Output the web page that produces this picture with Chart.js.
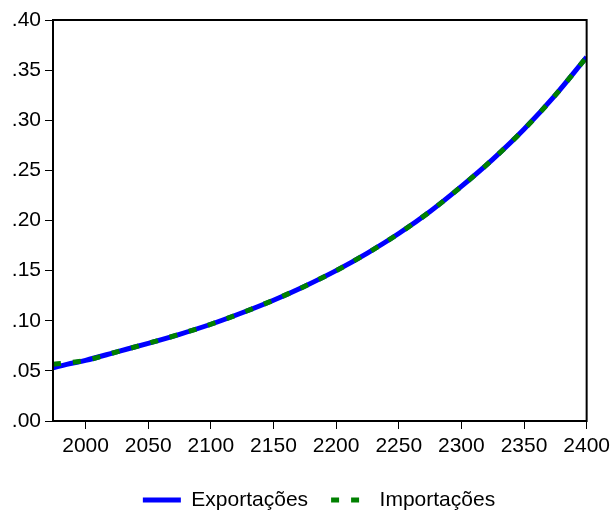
<!DOCTYPE html>
<html>
<head>
<meta charset="utf-8">
<script src="https://cdn.jsdelivr.net/npm/chart.js@4/dist/chart.umd.min.js"></script>
<style>
  html, body { margin: 0; padding: 0; background: #ffffff; }
  #wrap { width: 615px; height: 512px; }
</style>
</head>
<body>
<div id="wrap"><canvas id="c" width="615" height="512"></canvas></div>
<script>
// Series values by year
const years       = [1974, 1985, 2000, 2025, 2050, 2075, 2100, 2125, 2150, 2175, 2200, 2225, 2250, 2275, 2300, 2325, 2350, 2375, 2400];
const exportacoes = [0.053, 0.0565, 0.0605, 0.069, 0.0775, 0.0865, 0.0965, 0.108, 0.1205, 0.1345, 0.150, 0.1675, 0.187, 0.209, 0.234, 0.261, 0.291, 0.325, 0.363];
const importacoes = [0.0566, 0.058, 0.0605, 0.069, 0.0775, 0.0865, 0.0965, 0.108, 0.1205, 0.1345, 0.150, 0.1675, 0.187, 0.209, 0.234, 0.261, 0.291, 0.325, 0.363];

// Axis ticks
const xTicks = [2000, 2050, 2100, 2150, 2200, 2250, 2300, 2350, 2400];
const yTicks = [0, 0.05, 0.10, 0.15, 0.20, 0.25, 0.30, 0.35, 0.40];

const FONT = { family: '"Liberation Sans", Arial, Helvetica, sans-serif', size: 21 };

const toPoints = vals => years.map((y, i) => ({ x: y, y: vals[i] }));

// Frame around the plot area
const framePlugin = {
  id: 'frame',
  afterDatasetsDraw(chart) {
    const a = chart.chartArea, ctx = chart.ctx;
    ctx.save();
    ctx.strokeStyle = '#000';
    ctx.lineWidth = 2;
    ctx.strokeRect(a.left, a.top, a.right - a.left, a.bottom - a.top);
    ctx.restore();
  }
};

// Legend block height and horizontal placement
const legendFitPlugin = {
  id: 'legendFit',
  beforeInit(chart) {
    const lg = chart.legend;
    const fit = lg.fit;
    lg.fit = function () { fit.call(this); this.height = 45.5; };
  },
  afterLayout(chart) {
    const lg = chart.legend;
    lg.left += 24.5;
    lg.right += 24.5;
  }
};

// Legend swatches use each dataset's own line style
const legendLabels = chart =>
  Chart.defaults.plugins.legend.labels.generateLabels(chart).map(item => {
    const ds = chart.data.datasets[item.datasetIndex];
    item.lineDash = ds.borderDash || [];
    item.lineWidth = ds.borderWidth;
    item.strokeStyle = ds.borderColor;
    item.fillStyle = ds.borderColor;
    item.lineCap = 'butt';
    return item;
  });

new Chart(document.getElementById('c'), {
  type: 'line',
  data: {
    datasets: [
      {
        label: 'Exportações',
        data: toPoints(exportacoes),
        borderColor: '#0000ff',
        backgroundColor: '#0000ff',
        borderWidth: 5,
        pointRadius: 0,
        cubicInterpolationMode: 'monotone',
        order: 2
      },
      {
        label: 'Importações',
        data: toPoints(importacoes),
        borderColor: '#008000',
        backgroundColor: '#008000',
        borderWidth: 5,
        borderDash: [8, 12],
        pointRadius: 0,
        cubicInterpolationMode: 'monotone',
        order: 1
      }
    ]
  },
  options: {
    responsive: false,
    devicePixelRatio: 1,
    animation: false,
    layout: { padding: { top: 20, right: 26, left: 0, bottom: 0 } },
    plugins: {
      tooltip: { enabled: false },
      legend: {
        position: 'bottom',
        labels: {
          usePointStyle: true,
          pointStyle: 'line',
          pointStyleWidth: 38,
          padding: 23,
          color: '#000',
          font: FONT,
          generateLabels: legendLabels,
          sort: (a, b) => a.datasetIndex - b.datasetIndex
        }
      }
    },
    scales: {
      x: {
        type: 'linear',
        min: 1974,
        max: 2400,
        afterBuildTicks: s => { s.ticks = xTicks.map(v => ({ value: v })); },
        afterFit: s => { s.height = 45.5; },
        ticks: {
          autoSkip: false,
          maxRotation: 0,
          color: '#000',
          font: FONT,
          padding: 5,
          callback: v => String(v)
        },
        grid: { drawOnChartArea: false, tickLength: 8, tickColor: '#000', tickWidth: 1 },
        border: { display: false }
      },
      y: {
        min: 0,
        max: 0.40,
        afterBuildTicks: s => { s.ticks = yTicks.map(v => ({ value: v })); },
        afterFit: s => { s.width = 53; },
        ticks: {
          color: '#000',
          font: FONT,
          padding: 4,
          callback: v => v.toFixed(2).replace(/^0/, '')
        },
        grid: { drawOnChartArea: false, tickLength: 8, tickColor: '#000', tickWidth: 1 },
        border: { display: false }
      }
    }
  },
  plugins: [framePlugin, legendFitPlugin]
});
</script>
</body>
</html>
